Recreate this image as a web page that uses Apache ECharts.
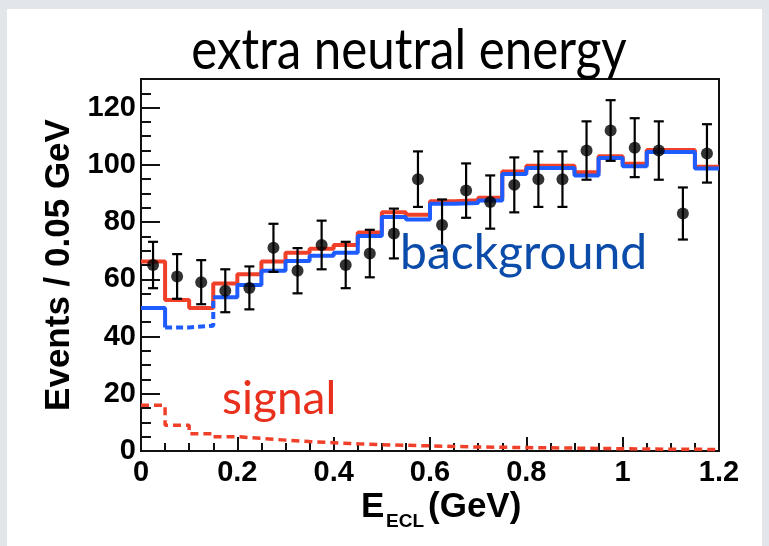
<!DOCTYPE html>
<html>
<head>
<meta charset="utf-8">
<script src="https://cdn.jsdelivr.net/npm/echarts@6/dist/echarts.min.js"></script>
<style>
  html, body { margin: 0; padding: 0; background: #e2e5ea; }
  #panel { position: absolute; left: 7px; top: 9px; width: 755px; height: 537px; background: #ffffff; }
  #chart { position: absolute; left: 0; top: 0; width: 769px; height: 546px; }
</style>
</head>
<body>
<div id="panel"></div>
<div id="chart"></div>
<script>
// Binning of the extra ECL energy distribution (GeV)
const binWidth = 0.05;
const xTickValues = [0, 0.2, 0.4, 0.6, 0.8, 1, 1.2];

// Observed events per bin and their statistical errors
const dataCounts = [65, 61, 59, 56, 57, 71, 63, 72, 65, 69, 76, 95,
                    79, 91, 87, 93, 95, 95, 105, 112, 106, 105, 83, 104];
const dataErrors = [8.1, 7.8, 7.7, 7.5, 7.5, 8.4, 7.9, 8.5, 8.1, 8.3, 8.7, 9.7,
                    8.9, 9.5, 9.3, 9.6, 9.7, 9.7, 10.2, 10.6, 10.3, 10.2, 9.1, 10.2];

// Fitted components per bin
const totalFit = [66.2, 52.8, 50.0, 58.5, 61.8, 66.2, 69.3, 70.7, 72.0, 76.4, 83.4, 82.6,
                  87.3, 87.6, 88.5, 97.7, 99.7, 99.7, 97.4, 103.0, 100.4, 105.2, 105.2, 99.3];
const backgroundFit = [50.0, 43.2, 43.8, 53.7, 58.0, 63.0, 66.4, 68.2, 69.3, 75.1, 81.8, 80.9,
                       86.4, 86.7, 87.5, 96.8, 98.9, 98.9, 96.3, 102.4, 99.5, 104.5, 104.5, 98.7];
const signalFit = [16.0, 9.0, 6.0, 5.0, 4.4, 3.8, 3.3, 2.9, 2.5, 2.2, 2.0, 1.8,
                   1.6, 1.4, 1.3, 1.2, 1.1, 1.0, 0.9, 0.8, 0.7, 0.6, 0.6, 0.5];

// Bins of the background curve drawn dashed
const dashedFrom = 1, dashedTo = 3;

const nBins = dataCounts.length;
const xMax = xTickValues[xTickValues.length - 1];

// Histogram outline points for bins [from, to): left edges plus closing edge
function stepPoints(values, from, to) {
  const pts = [];
  for (let i = from; i < to; i++) pts.push([i * binWidth, values[i]]);
  const last = to < values.length ? values[to] : values[to - 1];
  pts.push([to * binWidth, last]);
  return pts;
}

const dataPoints = dataCounts.map((c, i) => [(i + 0.5) * binWidth, c, dataErrors[i]]);

const RED = '#f0402a';
const BLUE = '#1f5cff';
const LABEL_FONT = '"Liberation Sans", Arial, sans-serif';
const TEXT_FONT = 'Lato, "Open Sans", sans-serif';

const chart = echarts.init(document.getElementById('chart'), null, { renderer: 'canvas' });

chart.setOption({
  animation: false,
  backgroundColor: 'transparent',
  grid: {
    left: 141, right: 50, top: 79, bottom: 95,
    show: true, borderColor: '#111', borderWidth: 2, backgroundColor: 'transparent'
  },
  xAxis: {
    type: 'value', min: 0, max: xMax, interval: 0.2,
    axisLine: { show: true, lineStyle: { color: '#111', width: 2 } },
    axisTick: { show: true, inside: true, length: 14, lineStyle: { color: '#111', width: 2 } },
    minorTick: { show: true, splitNumber: 4, length: 8, lineStyle: { color: '#111', width: 2 } },
    splitLine: { show: false },
    axisLabel: {
      color: '#000', fontSize: 29, fontWeight: 'bold', fontFamily: LABEL_FONT, margin: 7,
      showMinLabel: true, showMaxLabel: true
    }
  },
  yAxis: [
    {
      type: 'value', min: 0, max: 130, interval: 20,
      axisLine: { show: true, lineStyle: { color: '#111', width: 2 } },
      axisTick: { show: true, inside: true, length: 19, lineStyle: { color: '#111', width: 2 } },
      splitLine: { show: false },
      axisLabel: {
        color: '#000', fontSize: 29, fontWeight: 'bold', fontFamily: LABEL_FONT, margin: 5,
        formatter: v => (v > 120 ? '' : String(v))
      },
      name: 'Events / 0.05 GeV',
      nameLocation: 'middle', nameRotate: 90, nameGap: 63,
      nameTextStyle: { color: '#000', fontSize: 35, fontWeight: 'bold', fontFamily: LABEL_FONT }
    },
    {
      // minor ticks every 5 events
      type: 'value', min: 0, max: 130, interval: 5, position: 'left',
      axisLine: { show: false },
      axisTick: { show: true, inside: true, length: 10, lineStyle: { color: '#111', width: 2 } },
      axisLabel: { show: false },
      splitLine: { show: false }
    }
  ],
  series: [
    {
      name: 'total', type: 'line', step: 'end', symbol: 'none', z: 2,
      data: stepPoints(totalFit, 0, nBins),
      lineStyle: { color: RED, width: 4 }
    },
    {
      name: 'background', type: 'line', step: 'end', symbol: 'none', z: 3,
      data: stepPoints(backgroundFit, 0, dashedFrom),
      lineStyle: { color: BLUE, width: 4 }
    },
    {
      name: 'background (dashed)', type: 'line', step: 'end', symbol: 'none', z: 3,
      data: stepPoints(backgroundFit, dashedFrom, dashedTo),
      lineStyle: { color: BLUE, width: 4, type: [7, 4] }
    },
    {
      name: 'background', type: 'line', step: 'end', symbol: 'none', z: 3,
      data: stepPoints(backgroundFit, dashedTo, nBins),
      lineStyle: { color: BLUE, width: 4 }
    },
    {
      name: 'signal', type: 'line', step: 'end', symbol: 'none', z: 3,
      data: stepPoints(signalFit, 0, nBins),
      lineStyle: { color: RED, width: 3.5, type: [8, 5] }
    },
    {
      name: 'data errors', type: 'custom', z: 5,
      data: dataPoints,
      renderItem: function (params, api) {
        const x = api.value(0), y = api.value(1), e = api.value(2);
        const top = api.coord([x, y + e]);
        const bot = api.coord([x, y - e]);
        const cap = 5;
        const st = { stroke: '#000', lineWidth: 2.2 };
        return {
          type: 'group',
          children: [
            { type: 'line', shape: { x1: top[0], y1: top[1], x2: bot[0], y2: bot[1] }, style: st },
            { type: 'line', shape: { x1: top[0] - cap, y1: top[1], x2: top[0] + cap, y2: top[1] }, style: st },
            { type: 'line', shape: { x1: bot[0] - cap, y1: bot[1], x2: bot[0] + cap, y2: bot[1] }, style: st }
          ]
        };
      }
    },
    {
      name: 'data', type: 'scatter', z: 6,
      data: dataPoints.map(p => [p[0], p[1]]),
      symbol: 'circle', symbolSize: 12,
      itemStyle: { color: '#000' }
    }
  ],
  graphic: [
    {
      type: 'text', x: 409, y: 51, scaleX: 0.88, z: 10,
      style: {
        text: 'extra neutral energy', fill: '#000',
        font: '56px ' + TEXT_FONT, align: 'center', verticalAlign: 'middle'
      }
    },
    {
      type: 'text', x: 400, y: 254, z: 10,
      style: {
        text: 'background', fill: '#0b4cab',
        font: '48px ' + TEXT_FONT, align: 'left', verticalAlign: 'middle'
      }
    },
    {
      type: 'text', x: 222, y: 399, z: 10,
      style: {
        text: 'signal', fill: '#e8301c',
        font: '46px ' + TEXT_FONT, align: 'left', verticalAlign: 'middle'
      }
    },
    {
      type: 'text', x: 361, y: 507, z: 10,
      style: { text: 'E', fill: '#000', font: 'bold 35px ' + LABEL_FONT, align: 'left', verticalAlign: 'middle' }
    },
    {
      type: 'text', x: 386, y: 522, z: 10,
      style: { text: 'ECL', fill: '#000', font: 'bold 19px ' + LABEL_FONT, align: 'left', verticalAlign: 'middle' }
    },
    {
      type: 'text', x: 428, y: 507, z: 10,
      style: { text: '(GeV)', fill: '#000', font: 'bold 35px ' + LABEL_FONT, align: 'left', verticalAlign: 'middle' }
    }
  ]
});
</script>
</body>
</html>
